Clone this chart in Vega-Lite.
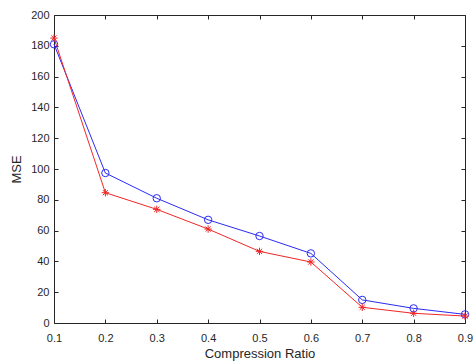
{
  "$schema": "https://vega.github.io/schema/vega-lite/v6.json",
  "width": 411,
  "height": 308,
  "autosize": {"type": "none"},
  "padding": {"left": 54, "top": 15, "right": 8, "bottom": 38},
  "background": "white",
  "config": {
    "view": {"stroke": null},
    "font": "Liberation Sans",
    "axis": {
      "domainColor": "#262626",
      "tickColor": "#262626",
      "tickSize": -4,
      "labelColor": "#262626",
      "labelFontSize": 11,
      "titleFontSize": 13,
      "titleFontWeight": "normal",
      "titleColor": "#262626",
      "grid": false
    }
  },
  "data": {
    "values": [
      {"ratio": 0.1, "mse": 181, "series": "A"},
      {"ratio": 0.2, "mse": 97.4, "series": "A"},
      {"ratio": 0.3, "mse": 81, "series": "A"},
      {"ratio": 0.4, "mse": 67, "series": "A"},
      {"ratio": 0.5, "mse": 56.5, "series": "A"},
      {"ratio": 0.6, "mse": 45.2, "series": "A"},
      {"ratio": 0.7, "mse": 15, "series": "A"},
      {"ratio": 0.8, "mse": 9.5, "series": "A"},
      {"ratio": 0.9, "mse": 5.6, "series": "A"},
      {"ratio": 0.1, "mse": 185, "series": "B"},
      {"ratio": 0.2, "mse": 84.6, "series": "B"},
      {"ratio": 0.3, "mse": 73.8, "series": "B"},
      {"ratio": 0.4, "mse": 61, "series": "B"},
      {"ratio": 0.5, "mse": 46.5, "series": "B"},
      {"ratio": 0.6, "mse": 39.6, "series": "B"},
      {"ratio": 0.7, "mse": 10.2, "series": "B"},
      {"ratio": 0.8, "mse": 6.3, "series": "B"},
      {"ratio": 0.9, "mse": 4.5, "series": "B"}
    ]
  },
  "resolve": {"axis": {"x": "independent", "y": "independent"}},
  "layer": [
    {
      "mark": {"type": "line", "strokeWidth": 1},
      "encoding": {
        "x": {"field": "ratio", "type": "quantitative",
              "scale": {"domain": [0.1, 0.9], "nice": false, "zero": false},
              "axis": {"values": [0.1,0.2,0.3,0.4,0.5,0.6,0.7,0.8,0.9], "format": ".1f", "title": "Compression Ratio", "labelPadding": 13, "titlePadding": 4, "labelFlush": false}},
        "y": {"field": "mse", "type": "quantitative",
              "scale": {"domain": [0, 200], "nice": false},
              "axis": {"values": [0,20,40,60,80,100,120,140,160,180,200], "title": "MSE", "labelPadding": 9, "titlePadding": 7}},
        "color": {"field": "series", "type": "nominal",
                  "scale": {"domain": ["A", "B"], "range": ["#2b2bf5", "#f02626"]}, "legend": null}
      }
    },
    {
      "mark": {"type": "point", "filled": false, "strokeWidth": 1, "size": 55, "opacity": 1},
      "encoding": {
        "x": {"field": "ratio", "type": "quantitative", "axis": {"orient": "top", "labels": false, "title": null, "values": [0.1,0.2,0.3,0.4,0.5,0.6,0.7,0.8,0.9]}},
        "y": {"field": "mse", "type": "quantitative", "axis": {"orient": "right", "labels": false, "title": null, "values": [0,20,40,60,80,100,120,140,160,180,200]}},
        "color": {"field": "series", "type": "nominal", "legend": null},
        "shape": {"field": "series", "type": "nominal",
                  "scale": {"domain": ["A", "B"], "range": ["circle", "M-1,0L1,0M0,-1L0,1M-0.7,-0.7L0.7,0.7M-0.7,0.7L0.7,-0.7"]}, "legend": null}
      }
    }
  ]
}
